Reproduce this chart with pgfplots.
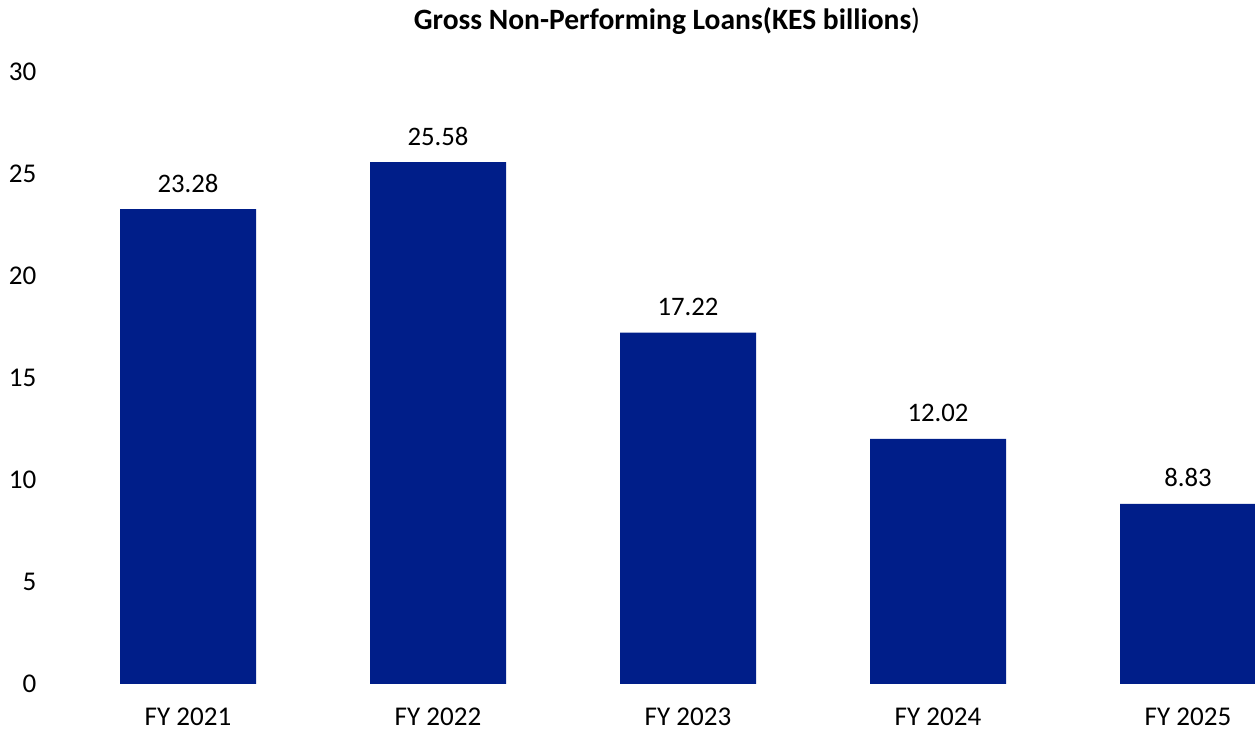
\documentclass[border=0pt]{standalone}
\usepackage{pgfplots}
\pgfplotsset{compat=1.18}
\usepackage{fontspec}
\setmainfont{Carlito}
\definecolor{barblue}{RGB}{0,30,137}

\begin{document}
\begin{tikzpicture}[x=1cm,y=1cm]
	\begin{axis}[%
			at={(0.4cm,0.47cm)},
			anchor=south west,
			width=12.15cm,
			height=6.12cm,
			scale only axis,
			font=\fontsize{7.7}{9}\selectfont,
			/pgf/number format/assume math mode=true,
			axis line style={draw=none},
			major tick length=0pt,
			xmin=-0.592, xmax=4.268,
			ymin=0, ymax=30,
			ytick={0,5,10,15,20,25,30},
			xtick={0,1,2,3,4},
			xticklabels={FY 2021, FY 2022, FY 2023, FY 2024, FY 2025},
			yticklabel style={anchor=east, inner sep=0pt, xshift=-0.3mm},
			xticklabel style={anchor=center, inner sep=0pt, yshift=-3.3mm},
			ybar,
			bar width=13.6mm,
			nodes near coords,
			nodes near coords style={anchor=center, yshift=2.6mm,
				font=\fontsize{7.6}{9}\selectfont,
				/pgf/number format/fixed, /pgf/number format/precision=2,
				/pgf/number format/fixed zerofill},
		]
		\addplot [fill=barblue, draw=none]
			coordinates {
				(0,23.28) (1,25.58) (2,17.22) (3,12.02) (4,8.83)
			};
	\end{axis}
	% the closing bracket is set in the regular weight, as in the source
	\node [font=\fontsize{8.4}{10}\selectfont] at (6.67cm,7.1cm) {\textbf{Gross Non-Performing Loans(KES billions}{)}};
	\pgfresetboundingbox
	\useasboundingbox (0,0) rectangle (12.55cm,7.31cm);
\end{tikzpicture}
\end{document}
